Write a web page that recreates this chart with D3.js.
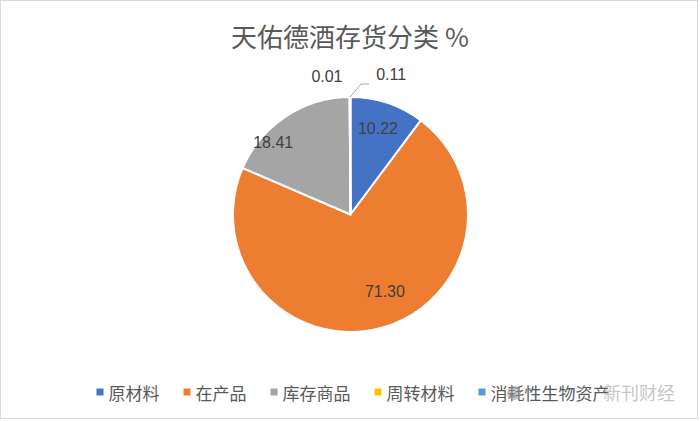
<!DOCTYPE html>
<html><head><meta charset="utf-8">
<script src="https://cdn.jsdelivr.net/npm/d3@7/dist/d3.min.js"></script>
<style>
html,body{margin:0;padding:0;background:#fff;}
svg{display:block;}
</style></head>
<body>
<svg id="chart" width="700" height="421"></svg>
<script>
const title = "天佑德酒存货分类 %";
const categories = ["原材料", "在产品", "库存商品", "周转材料", "消耗性生物资产"];
const values = [10.22, 71.30, 18.41, 0.01, 0.11];
const valueLabels = ["10.22", "71.30", "18.41", "0.01", "0.11"];
const colors = ["#4472C4", "#ED7D31", "#A5A5A5", "#FFC000", "#5B9BD5"];

// label layout (angle in degrees clockwise from 12 o'clock, radius factor)
const labelAngles = [17.8, 156, -47, -9.7, 16.2];
const labelRadii = [0.765, 0.72, 0.9, 1.19, 1.24];

const W = 700, H = 421;
const cx = 350.5, cy = 214.5, R = 117.5;
const svg = d3.select("#chart");
const cjk = "'Noto Sans CJK SC','Microsoft YaHei',sans-serif";

svg.append("rect").attr("x", 0.5).attr("y", 0.5).attr("width", W - 3).attr("height", H - 3)
  .attr("fill", "#fff").attr("stroke", "#d9d9d9").attr("stroke-width", 1);

svg.append("text").attr("x", 350).attr("y", 35).attr("text-anchor", "middle")
  .attr("dominant-baseline", "central")
  .style("font-family", cjk).style("font-size", "26px").attr("fill", "#595959").text(title);

const data = categories.map((c, i) => ({cat: c, value: values[i], i}));
const pie = d3.pie().sort(null).value(d => d.value).startAngle(0).endAngle(2 * Math.PI);
const arcs = pie(data);
const arc = d3.arc().innerRadius(0).outerRadius(R);

const g = svg.append("g").attr("transform", `translate(${cx},${cy})`);
g.selectAll("path.slice").data(arcs).enter().append("path")
  .attr("class", "slice")
  .attr("d", arc)
  .attr("fill", d => colors[d.data.i])
  .attr("stroke", "#fff").attr("stroke-width", 2).attr("stroke-linejoin", "round");

function polar(angDeg, r) {
  const a = angDeg * Math.PI / 180;
  return [Math.sin(a) * r, -Math.cos(a) * r];
}

// leader line for the small 消耗性生物资产 slice
{
  const d = arcs[4];
  const mid = (d.startAngle + d.endAngle) / 2;
  const p0 = [Math.sin(mid) * R, -Math.cos(mid) * R];
  const p1 = [p0[0] + 11, p0[1] - 13];
  const p2 = [p1[0] + 8, p1[1]];
  g.append("polyline").attr("points", [p0, p1, p2].map(p => p.join(",")).join(" "))
    .attr("fill", "none").attr("stroke", "#A6A6A6").attr("stroke-width", 1);
}

g.selectAll("text.lbl").data(arcs).enter().append("text")
  .attr("class", "lbl")
  .attr("x", d => polar(labelAngles[d.data.i], R * labelRadii[d.data.i])[0])
  .attr("y", d => polar(labelAngles[d.data.i], R * labelRadii[d.data.i])[1])
  .attr("text-anchor", "middle").attr("dominant-baseline", "central")
  .style("font-family", "'Liberation Sans',Arial,sans-serif").style("font-size", "16px")
  .attr("fill", "#404040")
  .text(d => valueLabels[d.data.i]);

// legend
const legend = svg.append("g");
const items = legend.selectAll("g.item").data(categories).enter().append("g").attr("class", "item");
items.append("rect").attr("width", 7).attr("height", 7).attr("y", -3.5).attr("fill", (d, i) => colors[i]);
items.append("text").attr("x", 12).attr("dominant-baseline", "central")
  .style("font-family", cjk).style("font-size", "17px").attr("fill", "#595959").text(d => d);
let x = 0;
const pos = [];
items.each(function () {
  const w = d3.select(this).select("text").node().getComputedTextLength();
  pos.push(x);
  x += 12 + w + 24;
});
const total = x - 24;
const x0 = 353 - total / 2;
items.attr("transform", (d, i) => `translate(${x0 + pos[i]},392)`);

// watermark
const wm = svg.append("g").attr("opacity", 0.55);
wm.append("circle").attr("cx", 514).attr("cy", 393).attr("r", 7).attr("fill", "#9a9a9a");
wm.append("text").attr("x", 603).attr("y", 392).attr("dominant-baseline", "central")
  .style("font-family", cjk).style("font-size", "18px").attr("fill", "#9a9a9a").text("新刊财经");
</script>
</body></html>
